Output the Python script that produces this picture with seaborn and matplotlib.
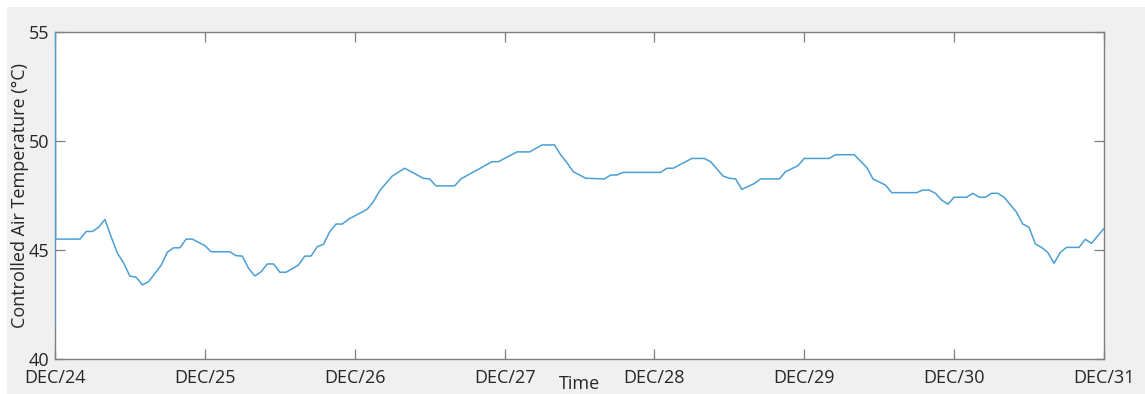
import matplotlib
matplotlib.use("Agg")
import matplotlib.pyplot as plt
from matplotlib.patches import Rectangle
import numpy as np
import pandas as pd
import seaborn as sns

# Controller log: hours elapsed since DEC/24 00:00 and air temperature (°C)
hours = [0, 0.05, 0.1, 4, 5, 6, 7, 8, 9, 10, 11, 12, 13, 14, 15, 17, 18, 19, 20,
         21, 22, 24, 25, 28, 29, 30, 31, 32, 33, 34, 35, 36, 37, 39, 40, 41, 42,
         43, 44, 45, 46, 47, 50, 51, 52, 54, 56, 59, 60, 61, 64, 65, 70, 71, 74,
         76, 78, 80, 81, 82, 83, 84, 85, 88, 89, 90, 91, 97, 98, 99, 102, 104,
         105, 107, 108, 109, 110, 112, 113, 116, 117, 119, 120, 124, 125, 128,
         130, 131, 133, 134, 138, 139, 140, 141, 142, 143, 144, 146, 147, 148,
         149, 150, 151, 152, 154, 155, 156, 157, 158, 159, 160, 161, 162, 164,
         165, 166, 168]
temps = [41.4, 55.5, 45.5, 45.5, 45.85, 45.85, 46.05, 46.4, 45.6, 44.85, 44.4,
         43.8, 43.75, 43.4, 43.55, 44.3, 44.9, 45.1, 45.1, 45.5, 45.5, 45.2,
         44.92, 44.92, 44.74, 44.72, 44.16, 43.81, 44.0, 44.36, 44.36, 43.98,
         43.98, 44.31, 44.72, 44.72, 45.15, 45.26, 45.84, 46.19, 46.19, 46.41,
         46.87, 47.22, 47.72, 48.39, 48.75, 48.29, 48.26, 47.94, 47.94, 48.26,
         49.05, 49.05, 49.5, 49.5, 49.82, 49.82, 49.36, 49.0, 48.59, 48.44,
         48.29, 48.26, 48.44, 48.44, 48.56, 48.56, 48.75, 48.75, 49.2, 49.2,
         49.05, 48.39, 48.29, 48.26, 47.78, 48.05, 48.26, 48.26, 48.59, 48.87,
         49.2, 49.2, 49.37, 49.37, 48.79, 48.26, 47.98, 47.63, 47.63, 47.75,
         47.75, 47.6, 47.29, 47.1, 47.42, 47.42, 47.6, 47.42, 47.42, 47.6,
         47.6, 47.42, 46.73, 46.19, 46.04, 45.28, 45.12, 44.89, 44.39, 44.89,
         45.12, 45.12, 45.49, 45.31, 45.99]

day_labels = ["DEC/24", "DEC/25", "DEC/26", "DEC/27", "DEC/28", "DEC/29",
              "DEC/30", "DEC/31"]
y_ticks = [40, 45, 50, 55]

start = pd.Timestamp("2018-12-24")
df = pd.DataFrame({
    "Time": start + pd.to_timedelta(hours, unit="h"),
    "Temp": temps,
})
day_ticks = [start + pd.Timedelta(days=i) for i in range(len(day_labels))]

sns.set_style("ticks")
plt.rcParams["font.family"] = ["Open Sans", "DejaVu Sans"]

W, H = 1145, 394
fig = plt.figure(figsize=(W / 100, H / 100), dpi=100, facecolor="#f0f0f0")
# thin white border along the top and left edges
fig.patches.append(Rectangle((0, 1 - 7 / H), 1, 7 / H, transform=fig.transFigure,
                             facecolor="white", edgecolor="none", zorder=0))
fig.patches.append(Rectangle((0, 0), 7 / W, 1, transform=fig.transFigure,
                             facecolor="white", edgecolor="none", zorder=0))

ax = fig.add_axes([55 / W, (H - 359) / H, (1104 - 55) / W, (359 - 32) / H])
ax.set_facecolor("white")

sns.lineplot(data=df, x="Time", y="Temp", ax=ax, color="#4a9fd6",
             linewidth=1.1, sort=False, zorder=3)

ax.set_xlim(day_ticks[0], day_ticks[-1])
ax.set_ylim(40, 55)
ax.set_xticks(day_ticks)
ax.set_xticklabels(day_labels)
ax.set_yticks(y_ticks)
ax.set_yticklabels([str(v) for v in y_ticks])

edge = "#7f7f7f"
for side in ["left", "right", "top", "bottom"]:
    ax.spines[side].set_visible(True)
    ax.spines[side].set_color(edge)
    ax.spines[side].set_linewidth(1.0)

ax.tick_params(axis="both", which="major", direction="in", length=7.2,
               width=0.9, color=edge, labelcolor="#262626", labelsize=13,
               top=True, right=True)
ax.tick_params(axis="x", pad=7)
ax.tick_params(axis="y", pad=4)

ax.set_xlabel("Time", fontsize=13, color="#262626")
ax.set_ylabel("Controlled Air Temperature (°C)", fontsize=13, color="#262626")
ax.xaxis.set_label_coords(0.5, -0.05)
ax.yaxis.set_label_coords(-0.025, 0.5)

fig.savefig("out.png", dpi=100, facecolor=fig.get_facecolor())
